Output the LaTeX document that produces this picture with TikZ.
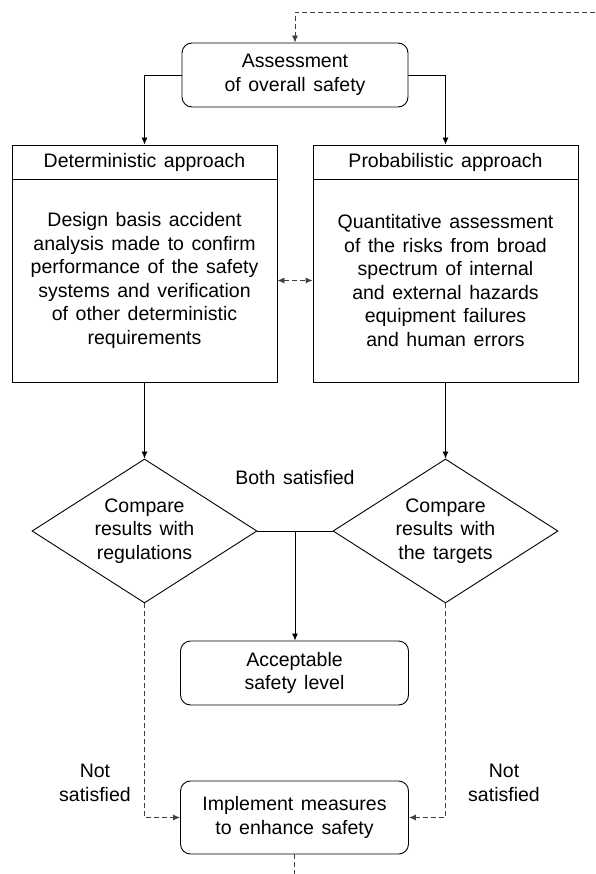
\documentclass[tikz,border=0pt]{standalone}
\usepackage{fontspec}
\setmainfont{Liberation Sans}[WordSpace=1.4]
\usepackage{tikz}
\pgfdeclarelayer{background}
\pgfsetlayers{background,main}
\usetikzlibrary{arrows.meta,positioning,shapes.geometric}
\newcommand{\Block}[4]% pos, name, style, text
{\node[#3] (#2) at (#1) {#4};
}
\newcommand{\Arrow}[3]% from, to, style
{ \begin{pgfonlayer}{background}
    \draw[-{Latex[length=7pt,width=6pt]},#3] (#1) -- (#2);
  \end{pgfonlayer}}
\newcommand{\ArrowHV}[3]% from, to, style (first across, then down)
{ \begin{pgfonlayer}{background}
    \draw[-{Latex[length=7pt,width=6pt]},#3] (#1) -| (#2);
  \end{pgfonlayer}}
\newcommand{\ArrowVH}[3]% from, to, style (first down, then across)
{ \begin{pgfonlayer}{background}
    \draw[-{Latex[length=7pt,width=6pt]},#3] (#1) |- (#2);
  \end{pgfonlayer}}
\tikzset{
  txt/.style={align=center,font=\fontsize{19.5}{23.5}\selectfont},
  rbox/.style={txt,draw,line width=0.9pt,rounded corners=10pt,inner sep=0pt},
  sbox/.style={txt,draw,line width=0.9pt,inner sep=0pt,minimum width=265pt},
  cmp/.style={txt,draw,line width=0.9pt,diamond,aspect=1.5625,inner sep=0pt,
    minimum width=225pt,minimum height=144pt},
  dsh/.style={dash pattern=on 5pt off 3pt,draw=black!75,line width=0.9pt},
  sld/.style={line width=0.9pt},
}
\begin{document}
\begin{tikzpicture}[x=1pt,y=-1pt]
  \useasboundingbox (0,0) rectangle (595,874);
  % boxes
  \Block{295, 75}{assess}{rbox,minimum width=226pt,minimum height=64pt}{Assessment\\of overall safety}
  \Block{144.5, 162}{det}{sbox,minimum height=34pt}{Deterministic approach}
  \Block{144.5, 280.5}{detbody}{sbox,minimum height=203pt}{Design basis accident\\analysis made to confirm\\performance of the safety\\systems and verification\\of other deterministic\\requirements}
  \Block{445.5, 162}{prob}{sbox,minimum height=34pt}{Probabilistic approach}
  \Block{445.5, 280.5}{probbody}{sbox,minimum height=203pt}{Quantitative assessment\\of the risks from broad\\spectrum of internal\\and external hazards\\equipment failures\\and human errors}
  \Block{144.5, 531}{cmpreg}{cmp}{Compare\\results with\\regulations}
  \Block{445.5, 531}{cmptgt}{cmp}{Compare\\results with\\the targets}
  \Block{294.5, 673}{accept}{rbox,minimum width=228pt,minimum height=64pt}{Acceptable\\safety level}
  \Block{294.5, 817.5}{impl}{rbox,minimum width=228pt,minimum height=73pt}{Implement measures\\to enhance safety}
  % labels
  \Block{295, 478}{bothlbl}{txt}{Both satisfied}
  \Block{95, 783}{notl}{txt}{Not\\satisfied}
  \Block{504, 783}{notr}{txt}{Not\\satisfied}
  \coordinate (back) at (595, 12);
  \coordinate (both) at (295, 531);
  \coordinate (out) at (294.5, 874);
  % connectors
  \ArrowHV{back}{assess}{dsh}
  \ArrowHV{assess.west}{det.north}{sld}
  \ArrowHV{assess.east}{prob.north}{sld}
  \Arrow{detbody.east}{probbody.west}{dsh,{Latex[length=7pt,width=6pt]}-{Latex[length=7pt,width=6pt]}}
  \Arrow{detbody}{cmpreg}{sld}
  \Arrow{probbody}{cmptgt}{sld}
  \draw[sld] (cmpreg.east) -- (cmptgt.west);
  \Arrow{both}{both |- accept.north}{sld}
  \ArrowVH{cmpreg.south}{impl.west}{dsh}
  \ArrowVH{cmptgt.south}{impl.east}{dsh}
  \draw[dsh] (impl) -- (out);
\end{tikzpicture}
\end{document}
